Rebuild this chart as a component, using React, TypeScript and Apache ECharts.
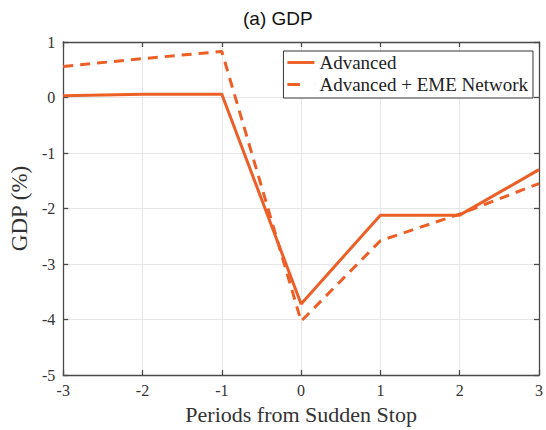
import React, { useEffect, useRef } from "react";
import * as echarts from "echarts";

const periods = ["-3", "-2", "-1", "0", "1", "2", "3"];
const periodValues = [-3, -2, -1, 0, 1, 2, 3];
const advanced = [0.03, 0.06, 0.06, -3.72, -2.12, -2.12, -1.3];
const advancedEme = [0.56, 0.7, 0.83, -4.03, -2.58, -2.1, -1.55];
const seriesNames = ["Advanced", "Advanced + EME Network"];
const titleText = "(a) GDP";
const xName = "Periods from Sudden Stop";
const yName = "GDP (%)";

const ORANGE = "#EC5F26";
const SERIF = "'Liberation Serif', 'DejaVu Serif', serif";
const FRAME = "#4a4a4a";

export default function App() {
  const ref = useRef<HTMLDivElement>(null);
  useEffect(() => {
    if (!ref.current) return;
    const chart = echarts.init(ref.current, undefined, { renderer: "svg" });
    const toPairs = (vals: number[]) => periodValues.map((p, i) => [p, vals[i]]);
    const axisCommon = {
      axisLine: { show: true, onZero: false, lineStyle: { color: FRAME, width: 1.3 } },
      axisTick: { show: true, inside: true, length: 5, lineStyle: { color: FRAME, width: 1.3 } },
    };
    chart.setOption({
      animation: false,
      backgroundColor: "#fff",
      title: {
        text: titleText,
        left: 238,
        top: 4,
        textStyle: { fontFamily: "'Liberation Sans', Arial, sans-serif", fontWeight: "normal", fontSize: 19, color: "#111" },
      },
      legend: {
        orient: "vertical",
        right: 13,
        top: 51,
        itemWidth: 27,
        itemHeight: 3,
        itemGap: 3,
        padding: [2, 5, 4, 4],
        borderColor: "#333",
        borderWidth: 1,
        backgroundColor: "#fff",
        textStyle: { fontFamily: SERIF, fontSize: 19, color: "#222", lineHeight: 18 },
        data: [
          { name: seriesNames[0], icon: "path://M0,0H28V3H0Z", itemStyle: { color: ORANGE } },
          { name: seriesNames[1], icon: "path://M0,0H13V3H0ZM27.9,0H28V3H27.9Z", itemStyle: { color: ORANGE } },
        ],
      },
      grid: { left: 59, right: 6, top: 42, bottom: 51, show: false },
      xAxis: [
        {
          type: "value",
          min: -3,
          max: 3,
          interval: 1,
          position: "bottom",
          name: xName,
          nameLocation: "middle",
          nameGap: 28,
          nameTextStyle: { fontFamily: SERIF, fontSize: 22, color: "#333" },
          axisLabel: {
            fontFamily: SERIF,
            fontSize: 16,
            color: "#333",
            margin: 7,
            formatter: (v: number) => periods[periodValues.indexOf(v)] ?? String(v),
          },
          splitLine: { show: true, lineStyle: { color: "#e6e6e6" } },
          ...axisCommon,
        },
        {
          type: "value",
          min: -3,
          max: 3,
          interval: 1,
          position: "top",
          axisLabel: { show: false },
          splitLine: { show: false },
          ...axisCommon,
        },
      ],
      yAxis: [
        {
          type: "value",
          min: -5,
          max: 1,
          interval: 1,
          position: "left",
          name: yName,
          nameLocation: "middle",
          nameGap: 29,
          nameTextStyle: { fontFamily: SERIF, fontSize: 23, color: "#333" },
          axisLabel: { fontFamily: SERIF, fontSize: 16, color: "#333", margin: 8 },
          splitLine: { show: true, lineStyle: { color: "#e6e6e6" } },
          ...axisCommon,
        },
        {
          type: "value",
          min: -5,
          max: 1,
          interval: 1,
          position: "right",
          axisLabel: { show: false },
          splitLine: { show: false },
          ...axisCommon,
        },
      ],
      series: [
        {
          name: seriesNames[0],
          type: "line",
          data: toPairs(advanced),
          symbol: "none",
          lineStyle: { color: ORANGE, width: 3 },
          itemStyle: { color: ORANGE },
          z: 3,
        },
        {
          name: seriesNames[1],
          type: "line",
          data: toPairs(advancedEme),
          symbol: "none",
          lineStyle: { color: ORANGE, width: 3, type: [10, 7] },
          itemStyle: { color: ORANGE },
          z: 3,
        },
      ],
    });
    return () => chart.dispose();
  }, []);
  return <div ref={ref} style={{ width: 546, height: 430, position: "absolute", left: 0, top: 0 }} />;
}
